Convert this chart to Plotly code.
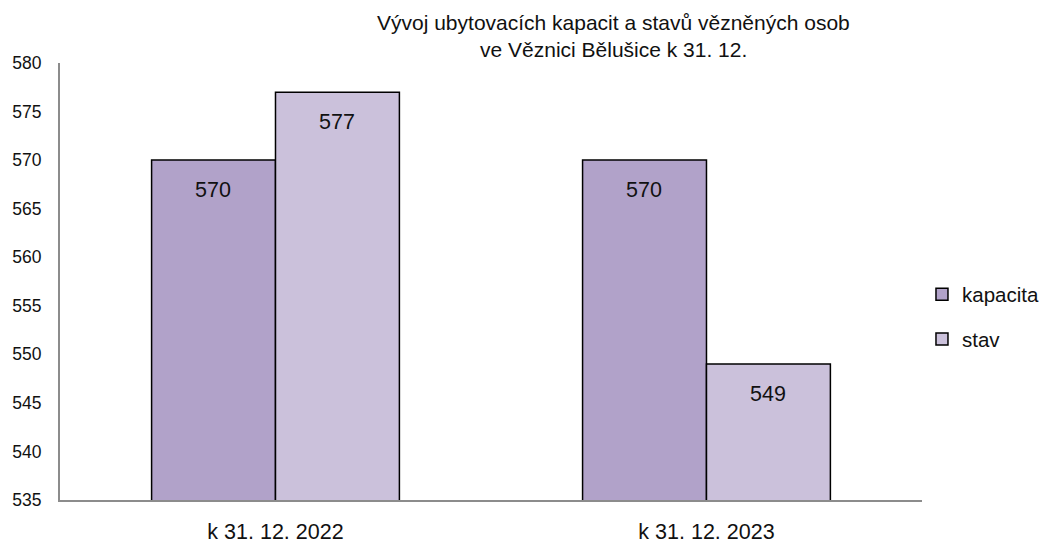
import plotly.graph_objects as go

categories = ["k 31. 12. 2022", "k 31. 12. 2023"]
kapacita = [570, 570]
stav = [577, 549]
title_lines = ["Vývoj ubytovacích kapacit a stavů vězněných osob",
               "ve Věznici Bělušice k 31. 12."]

fig = go.Figure()

fig.add_trace(go.Bar(
    x=categories, y=kapacita, name="kapacita", legendgroup="a",
    marker=dict(color="#B1A2C9", line=dict(color="black", width=1.5)),
))
fig.add_trace(go.Bar(
    x=categories, y=stav, name="stav", legendgroup="b",
    marker=dict(color="#CBC1DB", line=dict(color="black", width=1.5)),
))

# value labels just below the top of each bar
for vals, shift in ((kapacita, -62), (stav, 62)):
    for cat, v in zip(categories, vals):
        fig.add_annotation(
            x=cat, y=v, text=str(v), showarrow=False,
            xshift=shift, yshift=-30,
            font=dict(size=21.5, color="#111111"),
        )

# title, one annotation per line
for line, ypos in zip(title_lines, (1.0938, 1.032)):
    fig.add_annotation(
        xref="paper", yref="paper", x=0.6425, y=ypos, yanchor="middle",
        text=line, showarrow=False, font=dict(size=21, color="#111111"),
    )

# page body has an 8px margin, margins are shifted to compensate
fig.update_layout(
    width=1052, height=536,
    margin=dict(l=52, r=130, t=55, b=44),
    paper_bgcolor="white", plot_bgcolor="white",
    font=dict(family="Liberation Sans, Arial, sans-serif", size=17.5, color="#111111"),
    barmode="group", bargap=0.425, bargroupgap=0,
    legend=dict(xref="container", yref="container", x=0.8688, y=0.4235,
                yanchor="middle", xanchor="left",
                font=dict(size=20.5), itemwidth=30, tracegroupgap=15,
                traceorder="grouped"),
    showlegend=True,
)
fig.update_xaxes(showline=True, linecolor="#8c8c8c", linewidth=2, ticks="",
                 tickfont=dict(size=21.5), automargin=False, ticklabelstandoff=11)
fig.update_yaxes(range=[535, 580], dtick=5, showgrid=False, showline=True,
                 linecolor="#8c8c8c", linewidth=2, ticks="", zeroline=False,
                 ticklabelstandoff=13, automargin=False)

fig.write_html("out.html")
